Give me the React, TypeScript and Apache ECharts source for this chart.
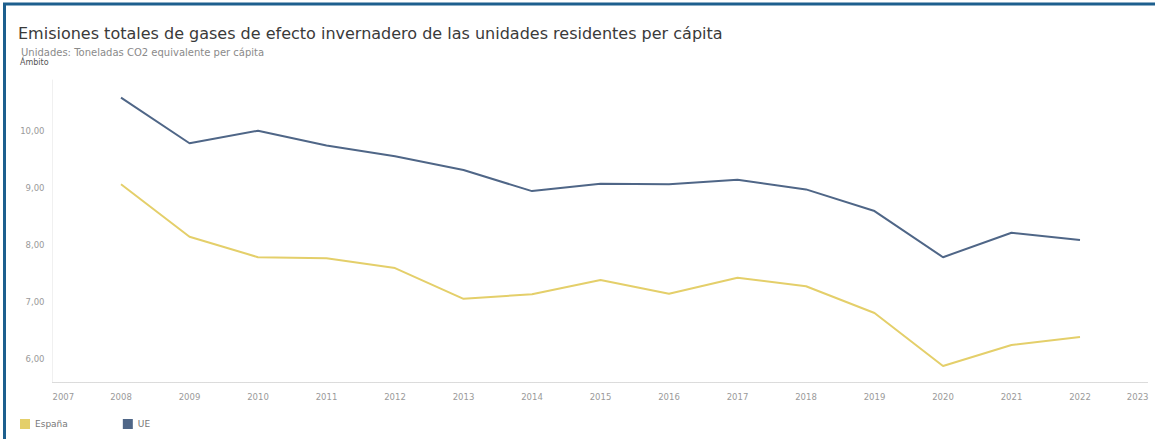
import React, { useEffect, useRef } from "react";
import * as echarts from "echarts";

const years = [2008, 2009, 2010, 2011, 2012, 2013, 2014, 2015, 2016, 2017, 2018, 2019, 2020, 2021, 2022];
const espana = [9.07, 8.15, 7.79, 7.77, 7.6, 7.06, 7.14, 7.39, 7.15, 7.43, 7.28, 6.81, 5.88, 6.25, 6.39];
const ue = [10.59, 9.79, 10.01, 9.75, 9.56, 9.32, 8.95, 9.08, 9.07, 9.15, 8.98, 8.6, 7.79, 8.22, 8.09];
const yTicks = [6, 7, 8, 9, 10];
const seriesNames = ["España", "UE"];
const seriesColors = ["#e4cf6a", "#4f6687"];
const titleText = "Emisiones totales de gases de efecto invernadero de las unidades residentes per cápita";
const subtitleText = "Unidades: Toneladas CO2 equivalente per cápita";
const scopeText = "Ámbito";

export default function App() {
  const ref = useRef<HTMLDivElement>(null);
  useEffect(() => {
    document.body.style.margin = "0";
    const chart = echarts.init(ref.current!, null, { renderer: "svg" });
    const font = "DejaVu Sans";
    chart.setOption({
      animation: false,
      backgroundColor: "#ffffff",
      textStyle: { fontFamily: font },
      graphic: [
        {
          type: "rect",
          shape: { x: 4.5, y: 4, width: 1200, height: 500 },
          style: { fill: "none", stroke: "#1d5f8e", lineWidth: 3 },
          silent: true,
        },
        {
          type: "text",
          x: 18,
          y: 33,
          style: { text: titleText, font: `16px "${font}"`, fill: "#3a3a3a", textVerticalAlign: "middle" },
        },
        {
          type: "text",
          x: 21,
          y: 52,
          style: { text: subtitleText, font: `10px "${font}"`, fill: "#8a8a8a", textVerticalAlign: "middle" },
        },
        {
          type: "text",
          x: 20,
          y: 62,
          style: { text: scopeText, font: `8px "${font}"`, fill: "#555555", textVerticalAlign: "middle" },
        },
      ],
      legend: {
        left: 15,
        top: 414,
        icon: "rect",
        itemWidth: 10,
        itemHeight: 10,
        itemGap: 55,
        textStyle: { fontSize: 9, color: "#777777", fontFamily: font },
        data: seriesNames,
      },
      grid: { left: 52.5, right: 6.5, top: 80, height: 302, containLabel: false },
      xAxis: {
        type: "value",
        min: 2007,
        max: 2023,
        interval: 1,
        axisLine: { show: true, lineStyle: { color: "#d8d8d8", type: "dotted" } },
        axisTick: { show: false },
        splitLine: { show: false },
        axisLabel: {
          color: "#9a9a9a",
          fontSize: 8.5,
          margin: 10,
          alignMinLabel: "left",
          alignMaxLabel: "right",
          formatter: (v: number) => String(v),
        },
      },
      yAxis: {
        type: "value",
        min: 5.6,
        max: 10.9,
        axisLine: { show: true, lineStyle: { color: "#f0f0f0" } },
        axisTick: { show: false },
        splitLine: { show: false },
        axisLabel: {
          customValues: yTicks,
          color: "#9a9a9a",
          fontSize: 8.5,
          margin: 8,
          formatter: (v: number) => v.toFixed(2).replace(".", ","),
        },
      },
      series: seriesNames.map((name, i) => ({
        name,
        type: "line",
        data: years.map((y, j) => [y, (i === 0 ? espana : ue)[j]]),
        showSymbol: false,
        symbol: "none",
        lineStyle: { width: 2, color: seriesColors[i] },
        itemStyle: { color: seriesColors[i] },
      })),
    });
    return () => chart.dispose();
  }, []);
  return <div ref={ref} style={{ width: 1155, height: 439 }} />;
}
